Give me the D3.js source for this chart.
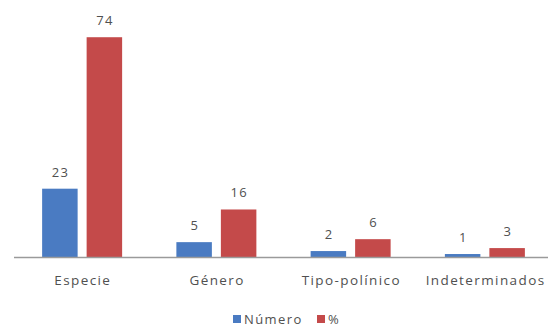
<!DOCTYPE html>
<html>
<head>
<meta charset="utf-8">
<script src="https://cdn.jsdelivr.net/npm/d3@7"></script>
<style>
  html, body { margin: 0; padding: 0; background: #fff; }
  svg { display: block; font-family: "Open Sans", "DejaVu Sans", sans-serif; }
</style>
</head>
<body>
<svg id="chart" width="548" height="327"></svg>
<script>
// Categories and series
const categories = ["Especie", "Género", "Tipo-polínico", "Indeterminados"];
const seriesNames = ["Número", "%"];
const numero = [23, 5, 2, 1];
const porcentaje = [74, 16, 6, 3];
const seriesColors = ["#4a7bc2", "#c44a4a"];

const svg = d3.select("#chart");
const W = 548, H = 327;
const plot = { left: 14, right: 552, top: 12, bottom: 257 };
const textColor = "#505050";
const fontFam = "\"Open Sans\", \"DejaVu Sans\", sans-serif";

const x = d3.scaleBand().domain(categories).range([plot.left + 1, plot.right]).padding(0);
const y = d3.scaleLinear().domain([0, 82.5]).range([plot.bottom, plot.bottom - 82.5 * 2.97]);

const barW = 35.5, innerGap = 9;
const series = [numero, porcentaje];

const g = svg.append("g");

series.forEach((vals, si) => {
  const offset = si === 0 ? -(innerGap / 2 + barW) : innerGap / 2;
  g.selectAll(".bar" + si)
    .data(vals)
    .enter().append("rect")
    .attr("x", (d, i) => x(categories[i]) + x.bandwidth() / 2 + offset)
    .attr("y", d => y(d))
    .attr("width", barW)
    .attr("height", d => y(0) - y(d))
    .attr("fill", seriesColors[si]);

  g.selectAll(".lbl" + si)
    .data(vals)
    .enter().append("text")
    .attr("x", (d, i) => x(categories[i]) + x.bandwidth() / 2 + offset + barW / 2 + 0.7)
    .attr("y", d => y(d) - 12)
    .attr("text-anchor", "middle")
    .attr("font-size", 13)
    .attr("letter-spacing", 1.4)
    .attr("fill", textColor)
    .text(d => d);
});

// Category axis
const axis = d3.axisBottom(x).tickSize(0).tickPadding(18);
const ax = svg.append("g").attr("transform", `translate(0,${plot.bottom})`).call(axis);
ax.select(".domain").attr("d", `M${plot.left},0.5H${W}`).attr("stroke", "#9a9a9a").attr("stroke-width", 1.3);
ax.selectAll("text").attr("font-size", 13.5).attr("letter-spacing", 1.4).attr("fill", textColor)
  .attr("font-family", fontFam).attr("dx", 0.7);

// Legend
const legend = svg.append("g").attr("transform", "translate(233,319)");
const legendX = [0, 84];
seriesNames.forEach((name, i) => {
  legend.append("rect").attr("x", legendX[i]).attr("y", -4).attr("width", 8).attr("height", 8).attr("fill", seriesColors[i]);
  legend.append("text").attr("x", legendX[i] + 11).attr("y", 4.5).attr("font-size", 13)
    .attr("letter-spacing", 1.4).attr("fill", textColor).text(name);
});
</script>
</body>
</html>
